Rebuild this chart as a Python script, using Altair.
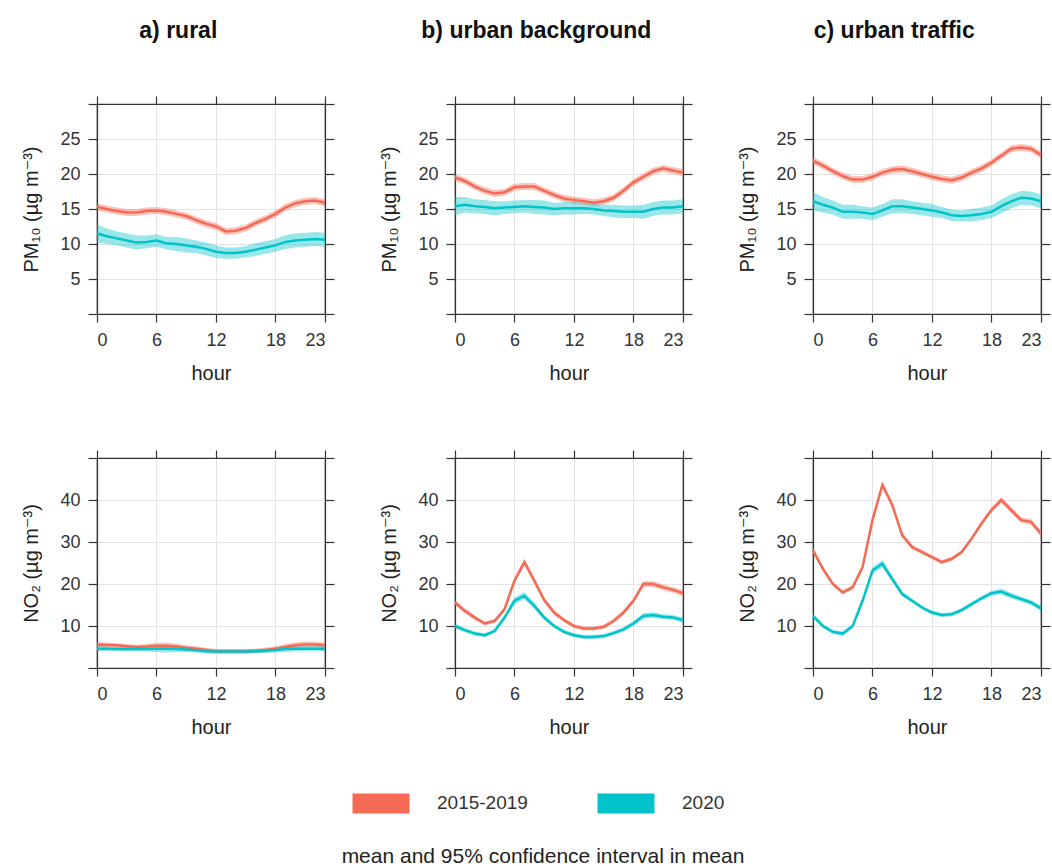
import altair as alt
import pandas as pd

hours = list(range(24))
periods = ["2015-2019", "2020"]
col_titles = ["a) rural", "b) urban background", "c) urban traffic"]

# PM10 means (µg m-3)
pm_rural_old = [15.3,15.0,14.7,14.5,14.5,14.7,14.8,14.6,14.3,14.0,13.4,12.9,12.5,11.8,11.9,12.3,13.0,13.6,14.3,15.2,15.8,16.1,16.2,15.9]
pm_rural_new = [11.5,11.1,10.8,10.5,10.2,10.3,10.5,10.1,10.0,9.8,9.6,9.3,8.9,8.7,8.7,8.9,9.2,9.5,9.8,10.3,10.5,10.6,10.7,10.6]
pm_ubg_old = [19.5,19.0,18.2,17.6,17.2,17.4,18.1,18.2,18.2,17.6,17.0,16.5,16.3,16.1,15.9,16.1,16.6,17.6,18.8,19.6,20.4,20.8,20.5,20.2]
pm_ubg_new = [15.4,15.6,15.4,15.3,15.1,15.2,15.3,15.4,15.3,15.2,15.0,15.1,15.1,15.1,15.0,14.8,14.7,14.6,14.6,14.6,15.0,15.2,15.2,15.4]
pm_utr_old = [21.9,21.2,20.4,19.7,19.2,19.2,19.6,20.2,20.6,20.7,20.4,20.0,19.6,19.3,19.1,19.5,20.2,20.8,21.6,22.6,23.6,23.8,23.6,22.7]
pm_utr_new = [16.1,15.6,15.2,14.6,14.6,14.5,14.3,14.8,15.4,15.4,15.2,15.0,14.8,14.5,14.1,14.0,14.1,14.3,14.6,15.4,16.1,16.6,16.5,16.1]

# NO2 means (µg m-3)
no_rural_old = [5.6,5.5,5.4,5.2,5.0,5.1,5.3,5.3,5.1,4.8,4.6,4.3,4.0,4.0,4.0,4.0,4.1,4.3,4.6,5.0,5.4,5.6,5.6,5.4]
no_rural_new = [4.6,4.6,4.5,4.5,4.5,4.5,4.6,4.6,4.5,4.4,4.2,4.0,3.9,3.9,3.9,3.9,4.0,4.1,4.3,4.5,4.6,4.6,4.6,4.6]
no_ubg_old = [15.6,13.6,12.0,10.6,11.2,14.0,20.8,25.2,20.8,16.2,13.2,11.4,10.0,9.4,9.4,9.8,11.2,13.2,16.0,20.0,20.0,19.2,18.6,17.8]
no_ubg_new = [10.0,9.0,8.2,7.8,8.8,12.0,16.0,17.2,14.8,12.0,10.0,8.6,7.8,7.4,7.4,7.6,8.3,9.2,10.6,12.4,12.6,12.2,12.0,11.4]
no_utr_old = [28.0,23.6,20.0,18.0,19.2,24.0,35.2,43.6,38.8,31.6,28.8,27.6,26.4,25.2,26.0,27.6,30.8,34.4,37.6,40.0,37.6,35.2,34.8,32.0]
no_utr_new = [12.4,10.0,8.6,8.2,10.0,16.0,23.2,24.8,21.2,17.6,16.0,14.4,13.2,12.6,12.8,13.8,15.2,16.6,17.8,18.2,17.2,16.4,15.6,14.2]

# 95% CI half widths
ci_pm_old = [0.5,0.5,0.5,0.5,0.5,0.5,0.5,0.5,0.5,0.5,0.5,0.5,0.5,0.5,0.5,0.5,0.5,0.5,0.5,0.5,0.5,0.5,0.5,0.5]
ci_pm_new = [1.3,1.1,1.0,1.0,1.0,0.9,0.9,0.9,1.0,1.0,0.9,0.9,0.9,0.8,0.8,0.8,0.9,0.9,0.9,1.0,1.0,1.0,1.0,1.0]
ci_no_old = [0.6,0.6,0.5,0.5,0.5,0.6,0.7,0.8,0.7,0.6,0.6,0.5,0.5,0.5,0.5,0.5,0.5,0.6,0.6,0.7,0.7,0.7,0.7,0.7]
ci_no_new = [0.6,0.5,0.5,0.5,0.5,0.6,0.8,0.9,0.7,0.6,0.5,0.5,0.5,0.5,0.5,0.5,0.5,0.5,0.6,0.7,0.7,0.6,0.6,0.6]

colors = ["#F46A55", "#00C4C9"]
FONT = "Liberation Sans, DejaVu Sans, sans-serif"


def make_df(old, new, ci_old, ci_new):
    rows = []
    for period, vals, ci in ((periods[0], old, ci_old), (periods[1], new, ci_new)):
        for h, v, c in zip(hours, vals, ci):
            rows.append({"hour": h, "period": period, "mean": v, "lo": v - c, "hi": v + c})
    return pd.DataFrame(rows)


def panel(df, ytitle, ymax, ystep, title=None):
    yvals = list(range(0, ymax + 1, ystep))
    xscale = alt.Scale(domain=[0, 23], nice=False, zero=False)
    yscale = alt.Scale(domain=[0, ymax], nice=False)
    label_expr = f"datum.value == 0 || datum.value == {ymax} ? '' : datum.label"
    xaxis = alt.Axis(values=[0, 6, 12, 18, 23], title="hour", grid=True,
                     tickSize=8, labelPadding=9, titlePadding=14)
    yaxis = alt.Axis(values=yvals, title=ytitle, grid=True, labelExpr=label_expr,
                     tickSize=9, labelPadding=8, titlePadding=18)
    band = alt.Chart(df).mark_area(fillOpacity=0.4).encode(
        x=alt.X("hour:Q", scale=xscale, axis=xaxis),
        y=alt.Y("lo:Q", scale=yscale, axis=yaxis),
        y2="hi:Q",
        fill=alt.Fill("period:N", scale=alt.Scale(domain=periods, range=colors),
                      legend=alt.Legend(
                          title="mean and 95% confidence interval in mean",
                          titleOrient="bottom", titleAnchor="middle", titleLimit=800,
                          orient="none", legendX=245, legendY=680,
                          direction="horizontal",
                          symbolType="M-1.5,-0.53H1.5V0.53H-1.5Z",
                          symbolSize=1444, symbolOpacity=1, symbolStrokeWidth=0,
                          labelOffset=37, columnPadding=69, titlePadding=32,
                          labelFontSize=19, titleFontSize=21, titleFontWeight="normal",
                          labelFont=FONT, titleFont=FONT,
                          labelColor="#333", titleColor="#222")),
    )
    line = alt.Chart(df).mark_line(strokeWidth=2.5).encode(
        x=alt.X("hour:Q", scale=xscale, axis=None),
        y=alt.Y("mean:Q", scale=yscale, axis=None),
        stroke=alt.Stroke("period:N", scale=alt.Scale(domain=periods, range=colors), legend=None),
    )
    mirror = alt.Chart(df).mark_line(opacity=0).encode(
        x=alt.X("hour:Q", scale=xscale,
                axis=alt.Axis(orient="top", values=[0, 6, 12, 18, 23], labels=False,
                              title=None, grid=False, tickSize=8)),
        y=alt.Y("mean:Q", scale=yscale,
                axis=alt.Axis(orient="right", values=yvals, labels=False,
                              title=None, grid=False, tickSize=9)),
    )
    ch = alt.layer(band, line, mirror).resolve_axis(x="independent", y="independent")
    props = dict(width=228, height=210)
    if title:
        props["title"] = alt.TitleParams(title, fontSize=23, fontWeight="bold", font=FONT,
                                         anchor="middle", frame="bounds", offset=52,
                                         color="#111")
    return ch.properties(**props)


pm_title = "PM₁₀ (µg m⁻³)"
no_title = "NO₂ (µg m⁻³)"

top = alt.hconcat(
    panel(make_df(pm_rural_old, pm_rural_new, ci_pm_old, ci_pm_new), pm_title, 30, 5, col_titles[0]),
    panel(make_df(pm_ubg_old, pm_ubg_new, ci_pm_old, ci_pm_new), pm_title, 30, 5, col_titles[1]),
    panel(make_df(pm_utr_old, pm_utr_new, ci_pm_old, ci_pm_new), pm_title, 30, 5, col_titles[2]),
    spacing=43,
)
bottom = alt.hconcat(
    panel(make_df(no_rural_old, no_rural_new, ci_no_old, ci_no_new), no_title, 50, 10),
    panel(make_df(no_ubg_old, no_ubg_new, ci_no_old, ci_no_new), no_title, 50, 10),
    panel(make_df(no_utr_old, no_utr_new, ci_no_old, ci_no_new), no_title, 50, 10),
    spacing=43,
)

chart = alt.vconcat(top, bottom, spacing=64).resolve_scale(fill="shared", stroke="shared").properties(
    padding={"left": 21, "top": 19, "right": 0, "bottom": 6},
    background="white",
).configure_view(
    stroke="#333", strokeWidth=1.2
).configure_axis(
    domainColor="#333", domainWidth=1.2, tickColor="#333", tickWidth=1.2,
    gridColor="#e3e3e3", gridWidth=1,
    labelFont=FONT, titleFont=FONT, labelFontSize=18, titleFontSize=20,
    labelColor="#333", titleColor="#222", titleFontWeight="normal",
)

chart.save("out.html", embed_options={"renderer": "svg", "actions": False})
